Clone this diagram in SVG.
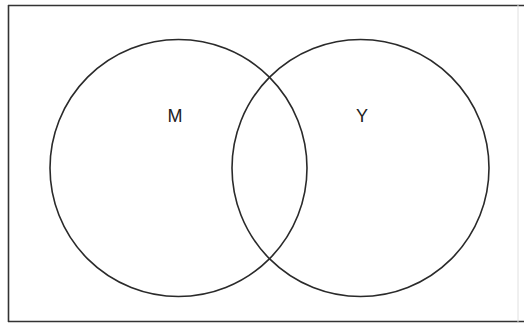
<svg xmlns="http://www.w3.org/2000/svg" width="524" height="324" viewBox="0 0 524 324">
<style>
.frame{stroke:#333;stroke-width:1.6;fill:none}
.circ{fill:none;stroke:#2a2a2a;stroke-width:1.6}
.lbl{font-family:"Liberation Sans",Arial,sans-serif;font-size:18px;fill:#222;text-anchor:middle}
</style>
<rect width="524" height="324" fill="#ffffff"/>
<g id="frame">
<line class="frame" x1="8.5" y1="5" x2="8.5" y2="322"/>
<line class="frame" x1="8" y1="5.5" x2="524" y2="5.5"/>
<line class="frame" x1="8" y1="321.5" x2="524" y2="321.5" stroke="#555"/>
<line x1="518" y1="5" x2="518" y2="322" stroke="#e0e0e0" stroke-width="1"/>
</g>
<g id="set-M">
<circle class="circ" cx="178.5" cy="168" r="128.5"/>
<text class="lbl" x="175" y="122">M</text>
</g>
<g id="set-Y">
<circle class="circ" cx="360.5" cy="168" r="128.5"/>
<text class="lbl" x="362" y="122">Y</text>
</g>
</svg>
